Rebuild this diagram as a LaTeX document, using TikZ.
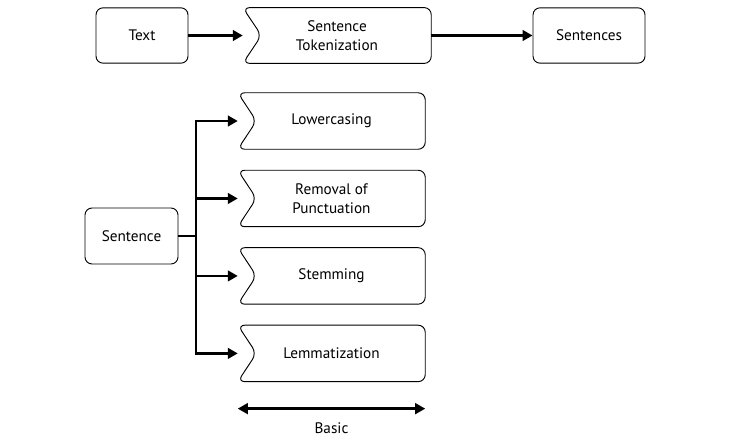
\documentclass[tikz,border=0pt]{standalone}
\usepackage{fontspec}
\setmainfont{PT Sans}
\usepackage{tikz}
\usetikzlibrary{arrows.meta,positioning}

\begin{document}
\begin{tikzpicture}[>={Triangle[length=3mm,width=3.2mm]}, node distance=0.63cm]
		\tikzstyle{rbox} = [draw, line width=0.8pt, rounded corners=6pt, minimum height=1.66cm, align=center, font=\fontsize{13}{16}\selectfont]
		\tikzstyle{nbox} = [minimum width=5.61cm, minimum height=1.68cm, inner sep=0pt, align=center, font=\fontsize{13}{16}\selectfont]
		\tikzstyle{outline} = [line width=0.8pt, rounded corners=6pt]
		\tikzstyle{flow} = [->, line width=2pt]

		\useasboundingbox (0,0) rectangle (22.02,-13.38);

		% top row
		\node[rbox, minimum width=2.76cm] (text) at (4.26,-1.065) {Text};
		\node[nbox, minimum width=5.64cm, minimum height=1.66cm] (tok) at (10.11,-1.065) {Sentence\\Tokenization};
		\node[rbox, minimum width=3.36cm] (sents) at (17.67,-1.065) {Sentences};

		% steps
		\node[nbox] (low) at (9.945,-3.63) {Lowercasing};
		\node[nbox, below=of low] (punct) {Removal of\\Punctuation};
		\node[nbox, below=of punct] (stem) {Stemming};
		\node[nbox, below=of stem] (lemma) {Lemmatization};

		\node[rbox, minimum width=2.79cm, minimum height=1.68cm] (sent) at (3.945,-7.08) {Sentence};
		\coordinate (fork) at (5.88,-7.08);

		% notched outlines
		\foreach \n in {tok,low,punct,stem,lemma}
			\draw[outline] (\n.north west) -- (\n.north east) -- (\n.south east)
				-- (\n.south west) -- ([xshift=0.56cm]\n.west) -- cycle;

		\draw[flow] (text) -- (tok);
		\draw[flow] (tok) -- (sents);
		\draw[line width=2pt] (sent) -- (fork);
		\foreach \n in {low,punct,stem,lemma}
			\draw[flow] (fork) |- (\n.west);

		% span
		\coordinate (bl) at ([yshift=-0.81cm]lemma.south west);
		\coordinate (br) at ([yshift=-0.81cm]lemma.south east);
		\coordinate (bm) at ([yshift=-0.81cm]lemma.south);
		\draw[<->, line width=2pt] (bl) -- (br);
		\node[font=\fontsize{13}{16}\selectfont, below=0.3cm of bm] (basic) {Basic};
		\end{tikzpicture}
\end{document}
